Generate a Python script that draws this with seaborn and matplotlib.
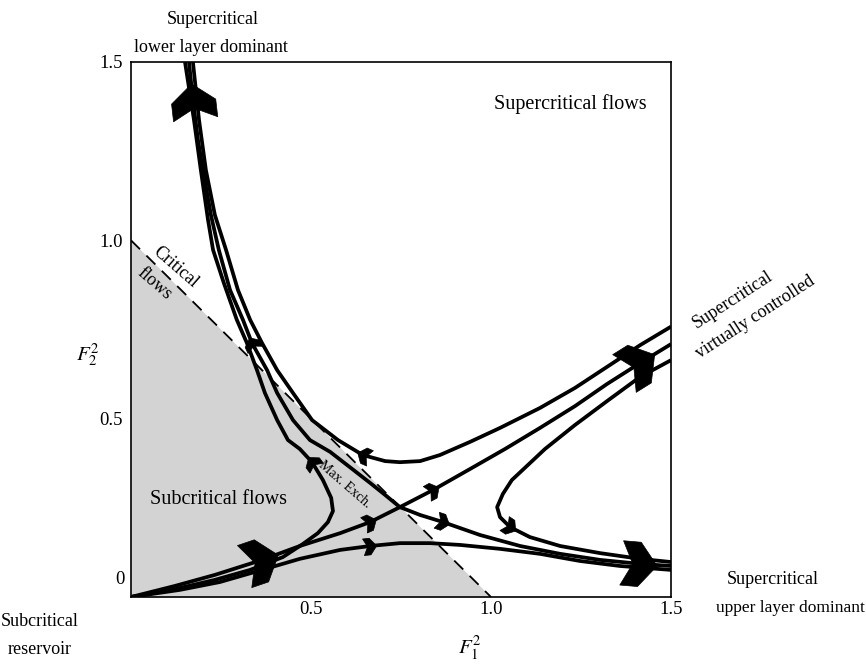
import numpy as np
import matplotlib
matplotlib.use("Agg")
import matplotlib.pyplot as plt
import seaborn as sns
from matplotlib.path import Path
from matplotlib.markers import MarkerStyle
from matplotlib.transforms import Affine2D

# ---------------- data ----------------
crit_f1 = [0.0, 1.0]
crit_f2 = [1.0, 0.0]

# L1: reservoir -> nose in the subcritical region -> lower-layer dominant
l1_f1 = [0.000, 0.122, 0.233, 0.331, 0.422, 0.478, 0.519, 0.547, 0.561, 0.556, 0.533, 0.503,
         0.469, 0.436, 0.406, 0.372, 0.350, 0.322, 0.294, 0.258, 0.228, 0.214, 0.194, 0.175, 0.150]
l1_f2 = [0.000, 0.022, 0.048, 0.076, 0.112, 0.149, 0.179, 0.210, 0.241, 0.278, 0.328, 0.378,
         0.415, 0.440, 0.496, 0.572, 0.636, 0.712, 0.777, 0.880, 0.973, 1.057, 1.197, 1.337, 1.500]

# L2: separatrix, lower-layer dominant -> maximal exchange -> upper-layer dominant
l2_f1 = [0.161, 0.172, 0.186, 0.200, 0.222, 0.244, 0.275, 0.311, 0.336, 0.378, 0.406, 0.450,
         0.497, 0.553, 0.608, 0.664, 0.706, 0.747, 0.803, 0.867, 0.969, 1.081, 1.192, 1.303,
         1.414, 1.500]
l2_f2 = [1.500, 1.393, 1.281, 1.197, 1.071, 0.973, 0.861, 0.777, 0.712, 0.636, 0.572, 0.496,
         0.440, 0.407, 0.364, 0.320, 0.286, 0.252, 0.230, 0.210, 0.174, 0.143, 0.121, 0.104,
         0.093, 0.087]

# L3: lower-layer dominant -> supercritical -> virtually controlled
l3_f1 = [0.172, 0.189, 0.208, 0.233, 0.264, 0.297, 0.331, 0.364, 0.406, 0.450, 0.503, 0.575,
         0.644, 0.706, 0.747, 0.803, 0.858, 0.942, 1.025, 1.136, 1.233, 1.322, 1.414, 1.500]
l3_f2 = [1.500, 1.337, 1.197, 1.071, 0.973, 0.861, 0.777, 0.712, 0.636, 0.572, 0.496, 0.440,
         0.398, 0.381, 0.378, 0.381, 0.398, 0.435, 0.474, 0.530, 0.586, 0.645, 0.706, 0.758]

# C2: separatrix, reservoir -> maximal exchange -> virtually controlled
c2_f1 = [0.000, 0.122, 0.233, 0.364, 0.469, 0.581, 0.664, 0.747, 0.839, 0.942, 1.039, 1.136,
         1.233, 1.322, 1.414, 1.500]
c2_f2 = [0.000, 0.031, 0.062, 0.104, 0.143, 0.179, 0.210, 0.252, 0.300, 0.359, 0.415, 0.474,
         0.535, 0.597, 0.656, 0.709]

# C3: reservoir -> upper-layer dominant
c3_f1 = [0.000, 0.136, 0.247, 0.364, 0.469, 0.581, 0.664, 0.747, 0.831, 0.914, 1.025, 1.136,
         1.247, 1.358, 1.500]
c3_f2 = [0.000, 0.020, 0.042, 0.076, 0.107, 0.132, 0.143, 0.151, 0.151, 0.146, 0.135, 0.121,
         0.101, 0.087, 0.076]

# R: virtually controlled -> nose -> upper-layer dominant
r_f1 = [1.500, 1.414, 1.322, 1.233, 1.150, 1.094, 1.058, 1.033, 1.017, 1.025, 1.053, 1.108,
        1.192, 1.303, 1.414, 1.500]
r_f2 = [0.664, 0.617, 0.549, 0.482, 0.415, 0.362, 0.328, 0.289, 0.252, 0.224, 0.196, 0.168,
        0.143, 0.123, 0.107, 0.098]

curves = {"L1": (l1_f1, l1_f2), "L2": (l2_f1, l2_f2), "L3": (l3_f1, l3_f2),
          "C2": (c2_f1, c2_f2), "C3": (c3_f1, c3_f2), "R": (r_f1, r_f2)}

# arrowheads: (curve, vertex index, direction along the curve)
big_arrows = [("L2", 1, -1), ("C2", 14, 1), ("L2", 24, 1), ("C2", 3, 1)]
small_arrows = [("L1", 11, 1), ("L2", 8, -1), ("L3", 12, -1), ("C2", 6, 1), ("C2", 8, 1),
                ("L2", 19, 1), ("C3", 6, 1), ("R", 10, 1)]

tick_vals = [0.5, 1.0, 1.5]
tick_labels = ["0.5", "1.0", "1.5"]

# ---------------- style ----------------
sns.set_theme(style="white")
plt.rcParams['font.family'] = ['Liberation Serif', 'DejaVu Serif']
plt.rcParams['mathtext.fontset'] = 'stix'

W, H = 866, 664
fig = plt.figure(figsize=(W / 100, H / 100), dpi=100)
L, R_, T, B = 131, 671, 62, 597
ax = fig.add_axes([L / W, 1 - B / H, (R_ - L) / W, (B - T) / H])
ax.set_xlim(0, 1.5)
ax.set_ylim(0, 1.5)

# subcritical (gray) region and critical line
ax.fill_between(crit_f1, crit_f2, 0, color='#d3d3d3', lw=0, zorder=0)
sns.lineplot(x=crit_f1, y=crit_f2, ax=ax, color='black', lw=1.3, linestyle=(0, (7, 5)),
             sort=False, estimator=None, legend=False, zorder=1)

for name, (fx, fy) in curves.items():
    sns.lineplot(x=fx, y=fy, ax=ax, color='black', lw=2.7, sort=False, estimator=None,
                 legend=False, zorder=3, solid_joinstyle='round', solid_capstyle='butt')

# arrowhead marker
verts = [(0.75, 0), (-0.05, 1.0), (-0.85, 1.0), (-0.35, 0), (-0.85, -1.0), (-0.05, -1.0), (0.75, 0)]
codes = [Path.MOVETO] + [Path.LINETO] * 5 + [Path.CLOSEPOLY]
head = Path(verts, codes)

fig.canvas.draw()


def put_arrow(name, i, sgn, ms):
    fx, fy = curves[name]
    p0 = ax.transData.transform((fx[i - 1], fy[i - 1]))
    p1 = ax.transData.transform((fx[i + 1], fy[i + 1]))
    d = (p1 - p0) * sgn
    ang = np.degrees(np.arctan2(d[1], d[0]))
    m = MarkerStyle(head, transform=Affine2D().rotate_deg(ang))
    ax.plot([fx[i]], [fy[i]], marker=m, ms=ms, color='black', mec='black', mew=0.5,
            ls='none', zorder=5, clip_on=False)


for a in big_arrows:
    put_arrow(*a, ms=32)
for a in small_arrows:
    put_arrow(*a, ms=12)

# axes cosmetics
for s in ax.spines.values():
    s.set_color('black')
    s.set_linewidth(1.2)
    s.set_visible(True)
ax.set_xticks(tick_vals)
ax.set_xticklabels(tick_labels)
ax.set_yticks(tick_vals)
ax.set_yticklabels(tick_labels)
ax.tick_params(length=0, labelsize=13.5, colors='black')
ax.tick_params(axis='x', pad=3)
ax.tick_params(axis='y', pad=6)
ax.grid(False)

ax.set_xlabel(r'$F_1^2$', fontsize=15, color='black', va='center')
ax.xaxis.set_label_coords((470 - L) / (R_ - L), (B - 648) / (B - T))
ax.set_ylabel(r'$F_2^2$', fontsize=15, color='black', rotation=0, va='center', ha='center')
ax.yaxis.set_label_coords((88 - L) / (R_ - L), (B - 355) / (B - T))


def ftext(x, y, s, **kw):
    kw.setdefault('fontsize', 13)
    kw.setdefault('ha', 'center')
    kw.setdefault('va', 'center')
    fig.text(x / W, 1 - y / H, s, color='black', **kw)


ftext(120, 580, "0", fontsize=13.5)
ftext(213, 20, "Supercritical")
ftext(211, 47, "lower layer dominant")
ftext(570, 104, "Supercritical flows", fontsize=14.5)
ftext(218, 500, "Subcritical flows", fontsize=14.5)
ftext(175, 267, "Critical", rotation=-41, rotation_mode='anchor')
ftext(154, 284, "flows", rotation=-41, rotation_mode='anchor')
ftext(345, 485, "Max. Exch.", fontsize=10, rotation=-41, rotation_mode='anchor')
ftext(733, 300, "Supercritical", rotation=33, rotation_mode='anchor')
ftext(755, 317, "virtually controlled", rotation=33, rotation_mode='anchor')
ftext(773, 580, "Supercritical")
ftext(790, 608, "upper layer dominant", fontsize=12.5)
ftext(40, 622, "Subcritical")
ftext(40, 650, "reservoir")

fig.savefig("out.png", dpi=100)
